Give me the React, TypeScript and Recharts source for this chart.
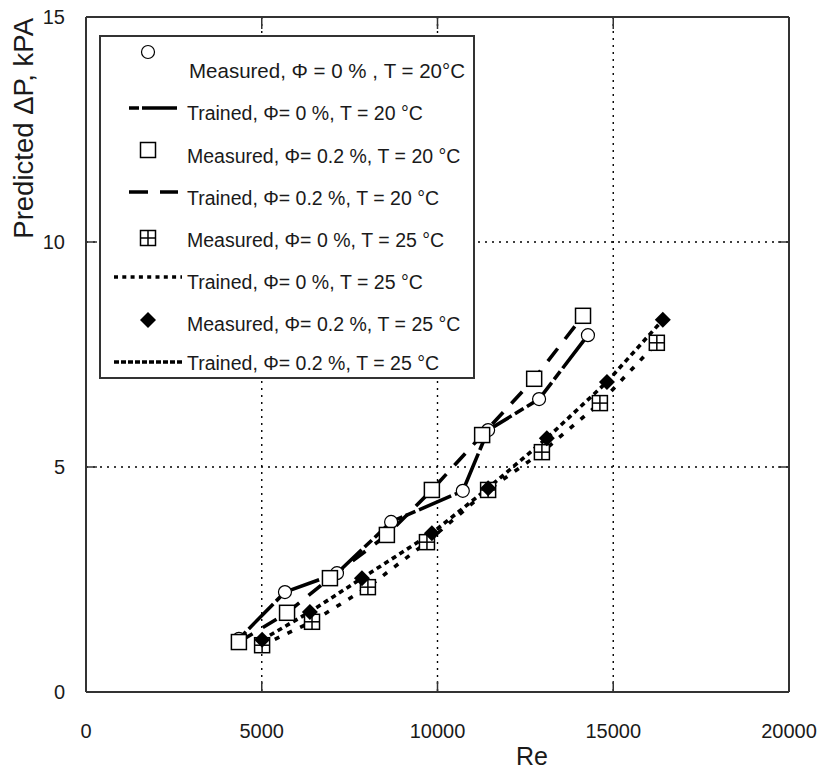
import React from 'react';
import { ComposedChart, Scatter, XAxis, YAxis, CartesianGrid, Legend } from 'recharts';

// ---------- data ----------
const X_TICKS = [0, 5000, 10000, 15000, 20000];
const Y_TICKS = [0, 5, 10, 15];

// Measured, Φ = 0 %, T = 20 °C  (open circles)
const reMeas0_20 = [4350, 5660, 7140, 8680, 10720, 11440, 12890, 14280];
const dpMeas0_20 = [1.18, 2.22, 2.64, 3.78, 4.47, 5.82, 6.51, 7.93];
// Trained, Φ = 0 %, T = 20 °C
const reTrain0_20 = [4350, 5660, 7140, 8680, 10720, 11440, 12890, 14280];
const dpTrain0_20 = [1.18, 2.22, 2.64, 3.78, 4.47, 5.82, 6.51, 7.93];

// Measured, Φ = 0.2 %, T = 20 °C (open squares)
const reMeas02_20 = [4350, 5720, 6940, 8560, 9840, 11270, 12750, 14140];
const dpMeas02_20 = [1.11, 1.76, 2.53, 3.49, 4.49, 5.71, 6.96, 8.36];
// Trained, Φ = 0.2 %, T = 20 °C
const reTrain02_20 = [4350, 5720, 6940, 8560, 9840, 11270, 12750, 14140];
const dpTrain02_20 = [1.11, 1.76, 2.53, 3.49, 4.49, 5.71, 6.96, 8.36];

// Measured, Φ = 0 %, T = 25 °C (crossed squares)
const reMeas0_25 = [5010, 6430, 8020, 9700, 11440, 12970, 14620, 16240];
const dpMeas0_25 = [1.04, 1.56, 2.33, 3.33, 4.49, 5.33, 6.42, 7.76];
// Trained, Φ = 0 %, T = 25 °C
const reTrain0_25 = [5010, 6430, 8020, 9700, 11440, 12970, 14620, 16240];
const dpTrain0_25 = [1.04, 1.56, 2.33, 3.33, 4.49, 5.33, 6.42, 7.76];

// Measured, Φ = 0.2 %, T = 25 °C (filled diamonds)
const reMeas02_25 = [5010, 6370, 7850, 9840, 11440, 13110, 14820, 16410];
const dpMeas02_25 = [1.16, 1.78, 2.53, 3.53, 4.53, 5.64, 6.89, 8.27];
// Trained, Φ = 0.2 %, T = 25 °C
const reTrain02_25 = [5010, 6370, 7850, 9840, 11440, 13110, 14820, 16410];
const dpTrain02_25 = [1.16, 1.78, 2.53, 3.53, 4.53, 5.64, 6.89, 8.27];

const LEGEND_LABELS = [
  'Measured, Φ = 0 % , T = 20°C',
  'Trained, Φ= 0 %, T = 20 °C',
  'Measured, Φ= 0.2 %, T = 20 °C',
  'Trained, Φ= 0.2 %, T = 20 °C',
  'Measured, Φ= 0 %, T = 25 °C',
  'Trained, Φ= 0 %, T = 25 °C',
  'Measured, Φ= 0.2 %, T = 25 °C',
  'Trained, Φ= 0.2 %, T = 25 °C',
];

const X_LABEL = 'Re';
const Y_LABEL = 'Predicted ΔP, kPA';

// ---------- helpers ----------
const toPts = (re: number[], dp: number[]) => re.map((r, i) => ({ re: r, dp: dp[i] }));

const FONT = '"Liberation Sans", Arial, sans-serif';
const TXT = '#1a1a1a';
const FRAME = '#333';

const DASH_T0_20 = '10 4 35 4';
const DASH_T02_20 = '16 12';
const DASH_T0_25 = '5 9';
const DASH_T02_25 = '5 4';
const LINE_W = 3.6;

// ---------- marker shapes ----------
const CircleMark = ({ cx, cy }: any) => (
  <circle cx={cx} cy={cy} r={6.5} fill="#fff" stroke="#000" strokeWidth={1.2} />
);
const SquareMark = ({ cx, cy }: any) => (
  <rect x={cx - 7.5} y={cy - 7.5} width={15} height={15} fill="#fff" stroke="#000" strokeWidth={1.5} />
);
const CrossSquareMark = ({ cx, cy }: any) => (
  <g>
    <rect x={cx - 7.5} y={cy - 7.5} width={15} height={15} fill="#fff" stroke="#000" strokeWidth={1.5} />
    <line x1={cx - 7.5} y1={cy} x2={cx + 7.5} y2={cy} stroke="#000" strokeWidth={1.5} />
    <line x1={cx} y1={cy - 7.5} x2={cx} y2={cy + 7.5} stroke="#000" strokeWidth={1.5} />
  </g>
);
const DiamondMark = ({ cx, cy }: any) => (
  <polygon points={`${cx},${cy - 8} ${cx + 8},${cy} ${cx},${cy + 8} ${cx - 8},${cy}`} fill="#000" />
);
const NoMark = () => <g />;

// ---------- axis ticks (inward tick marks) ----------
const isInner = (v: number, ends: number[]) => v !== ends[0] && v !== ends[ends.length - 1];

const BottomTick = ({ x, y, payload }: any) => (
  <g>
    {isInner(payload.value, X_TICKS) && (
      <line x1={x} y1={y} x2={x} y2={y - 11} stroke={FRAME} strokeWidth={1.5} />
    )}
    <text x={x} y={y + 46} textAnchor="middle" fontSize={20} fontFamily={FONT} fill={TXT}>
      {payload.value}
    </text>
  </g>
);
const TopTick = ({ x, y, payload }: any) =>
  isInner(payload.value, X_TICKS) ? (
    <line x1={x} y1={y} x2={x} y2={y + 12} stroke={FRAME} strokeWidth={1.5} />
  ) : (
    <g />
  );
const LeftTick = ({ x, y, payload }: any) => (
  <g>
    {isInner(payload.value, Y_TICKS) && (
      <line x1={x} y1={y} x2={x + 11} y2={y} stroke={FRAME} strokeWidth={1.5} />
    )}
    <text x={x - 21} y={y + 7} textAnchor="end" fontSize={20} fontFamily={FONT} fill={TXT}>
      {payload.value}
    </text>
  </g>
);
const RightTick = ({ x, y, payload }: any) =>
  isInner(payload.value, Y_TICKS) ? (
    <line x1={x} y1={y} x2={x - 11} y2={y} stroke={FRAME} strokeWidth={1.5} />
  ) : (
    <g />
  );

const XLabel = ({ viewBox }: any) => (
  <text x={viewBox.x + 446} y={viewBox.y + 73} textAnchor="middle" fontSize={25} fontFamily={FONT} fill={TXT}>
    {X_LABEL}
  </text>
);
const YLabel = ({ viewBox }: any) => (
  <text
    transform={`translate(${viewBox.x + 7}, ${viewBox.y + 1}) rotate(-90)`}
    textAnchor="end"
    fontSize={27.5}
    fontFamily={FONT}
    fill={TXT}
  >
    {Y_LABEL}
  </text>
);

// ---------- legend ----------
const LegendBox = () => {
  const markY = [17, 73, 115, 157, 203, 242, 285, 327];
  const textY = [43, 85, 128, 170, 212, 254, 296, 335];
  const mx = 49;
  const tx = 88;
  const sample = (i: number) => {
    const y = markY[i];
    switch (i) {
      case 0:
        return <CircleMark cx={mx} cy={y} />;
      case 1:
        return <line x1={30} y1={y} x2={78} y2={y} stroke="#000" strokeWidth={LINE_W} strokeDasharray="10 3 35 3" />;
      case 2:
        return <SquareMark cx={mx} cy={y} />;
      case 3:
        return <line x1={30} y1={y} x2={79} y2={y} stroke="#000" strokeWidth={LINE_W} strokeDasharray="19 12" />;
      case 4:
        return <CrossSquareMark cx={mx} cy={y} />;
      case 5:
        return <line x1={15} y1={y} x2={83} y2={y} stroke="#000" strokeWidth={LINE_W} strokeDasharray="4 4.3" />;
      case 6:
        return <DiamondMark cx={mx} cy={y} />;
      default:
        return <line x1={15} y1={y} x2={83} y2={y} stroke="#000" strokeWidth={LINE_W} strokeDasharray="5 2" />;
    }
  };
  return (
    <svg width={376} height={344} style={{ display: 'block' }}>
      <rect x={1} y={1} width={374} height={342} fill="#fff" stroke={FRAME} strokeWidth={2} />
      {LEGEND_LABELS.map((lab, i) => (
        <g key={lab}>
          {sample(i)}
          <text x={i === 0 ? tx + 2 : tx} y={textY[i]} fontSize={i === 0 ? 20.5 : 19.5} fontFamily={FONT} fill={TXT}>
            {lab}
          </text>
        </g>
      ))}
    </svg>
  );
};

export default function App() {
  return (
    <div style={{ position: 'absolute', left: 0, top: 0, background: '#fff' }}>
      <ComposedChart width={820} height={770} margin={{ top: 16, right: 30, bottom: 18, left: 26 }}>
        <CartesianGrid stroke="#000" strokeWidth={1.4} strokeDasharray="2 5" />
        <XAxis
          type="number"
          dataKey="re"
          domain={[0, 20000]}
          ticks={X_TICKS}
          interval={0}
          allowDataOverflow
          height={60}
          tickSize={0}
          tickMargin={0}
          tickLine={false}
          axisLine={{ stroke: FRAME, strokeWidth: 2 }}
          tick={<BottomTick />}
          label={<XLabel />}
        />
        <XAxis
          xAxisId="top"
          orientation="top"
          type="number"
          dataKey="re"
          domain={[0, 20000]}
          ticks={X_TICKS}
          interval={0}
          allowDataOverflow
          height={1}
          tickSize={0}
          tickMargin={0}
          tickLine={false}
          axisLine={{ stroke: FRAME, strokeWidth: 2 }}
          tick={<TopTick />}
        />
        <YAxis
          type="number"
          dataKey="dp"
          domain={[0, 15]}
          ticks={Y_TICKS}
          interval={0}
          allowDataOverflow
          width={60}
          tickSize={0}
          tickMargin={0}
          tickLine={false}
          axisLine={{ stroke: FRAME, strokeWidth: 2 }}
          tick={<LeftTick />}
          label={<YLabel />}
        />
        <YAxis
          yAxisId="right"
          orientation="right"
          type="number"
          dataKey="dp"
          domain={[0, 15]}
          ticks={Y_TICKS}
          interval={0}
          allowDataOverflow
          width={1}
          tickSize={0}
          tickMargin={0}
          tickLine={false}
          axisLine={{ stroke: FRAME, strokeWidth: 2 }}
          tick={<RightTick />}
        />

        {/* trained lines */}
        <Scatter
          name="Trained, Φ= 0 %, T = 20 °C"
          data={toPts(reTrain0_20, dpTrain0_20)}
          shape={<NoMark />}
          line={{ stroke: '#000', strokeWidth: LINE_W, strokeDasharray: DASH_T0_20 }}
          isAnimationActive={false}
        />
        <Scatter
          name="Trained, Φ= 0.2 %, T = 20 °C"
          data={toPts(reTrain02_20, dpTrain02_20)}
          shape={<NoMark />}
          line={{ stroke: '#000', strokeWidth: LINE_W, strokeDasharray: DASH_T02_20 }}
          isAnimationActive={false}
        />
        <Scatter
          name="Trained, Φ= 0 %, T = 25 °C"
          data={toPts(reTrain0_25, dpTrain0_25)}
          shape={<NoMark />}
          line={{ stroke: '#000', strokeWidth: LINE_W, strokeDasharray: DASH_T0_25 }}
          isAnimationActive={false}
        />
        <Scatter
          name="Trained, Φ= 0.2 %, T = 25 °C"
          data={toPts(reTrain02_25, dpTrain02_25)}
          shape={<NoMark />}
          line={{ stroke: '#000', strokeWidth: LINE_W, strokeDasharray: DASH_T02_25 }}
          isAnimationActive={false}
        />

        {/* measured markers */}
        <Scatter name="Measured, Φ = 0 %, T = 20°C" data={toPts(reMeas0_20, dpMeas0_20)} shape={<CircleMark />} isAnimationActive={false} />
        <Scatter name="Measured, Φ= 0.2 %, T = 20 °C" data={toPts(reMeas02_20, dpMeas02_20)} shape={<SquareMark />} isAnimationActive={false} />
        <Scatter name="Measured, Φ= 0 %, T = 25 °C" data={toPts(reMeas0_25, dpMeas0_25)} shape={<CrossSquareMark />} isAnimationActive={false} />
        <Scatter name="Measured, Φ= 0.2 %, T = 25 °C" data={toPts(reMeas02_25, dpMeas02_25)} shape={<DiamondMark />} isAnimationActive={false} />

        <Legend
          layout="vertical"
          align="center"
          verticalAlign="middle"
          content={<LegendBox />}
          wrapperStyle={{ position: 'absolute', left: 99, top: 35, width: 376, height: 344, margin: 0, padding: 0 }}
        />
      </ComposedChart>
    </div>
  );
}
